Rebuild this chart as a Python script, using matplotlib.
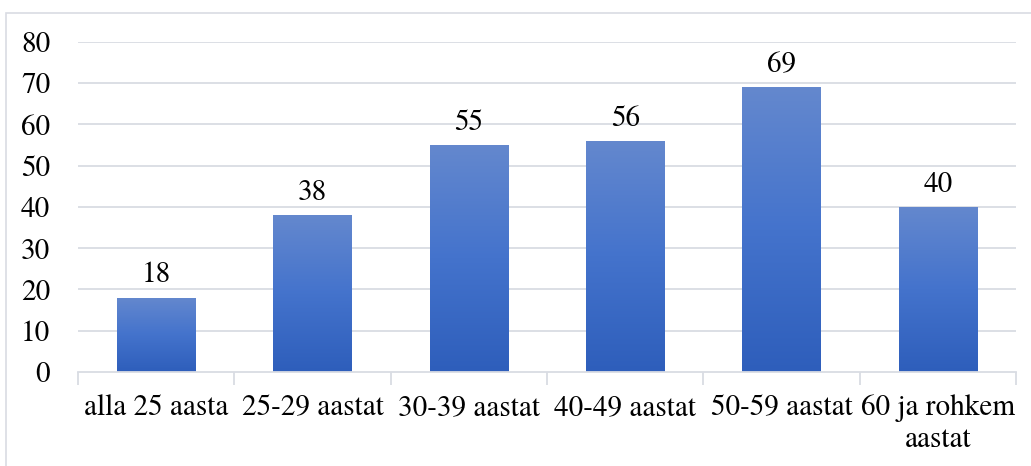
import numpy as np
import matplotlib.pyplot as plt
from matplotlib.colors import LinearSegmentedColormap
from matplotlib.patches import Rectangle

# data
categories = ["alla 25 aasta", "25-29 aastat", "30-39 aastat", "40-49 aastat",
              "50-59 aastat", "60 ja rohkem\naastat"]
values = [18, 38, 55, 56, 69, 40]
yticks = [0, 10, 20, 30, 40, 50, 60, 70, 80]

plt.rcParams['font.family'] = ['TeX Gyre Termes', 'Liberation Serif', 'DejaVu Serif']

fig = plt.figure(figsize=(10.31, 4.66), dpi=100)
# outer chart frame
fig.patches.append(Rectangle((6 / 1031, -0.1), 1.2, 1 - 12.5 / 466 + 0.1,
                             transform=fig.transFigure, fill=False,
                             edgecolor="#D9DCE3", linewidth=1.2))

ax = fig.add_axes([78 / 1031, 1 - 372 / 466, (1016 - 78) / 1031, (372 - 41.7) / 466])

grid_col = "#D9DCE3"
for v in yticks[1:]:
    ax.axhline(v, color=grid_col, linewidth=1.3, zorder=0)

x = np.arange(len(categories))
bars = ax.bar(x, values, width=0.5, color="none", zorder=2)

cmap = LinearSegmentedColormap.from_list("bluegrad", ["#2E5EBB", "#4473CC", "#6488CE"])
grad = np.linspace(0, 1, 256).reshape(-1, 1)
for b in bars:
    x0, y0 = b.get_x(), b.get_y()
    w, h = b.get_width(), b.get_height()
    im = ax.imshow(grad, cmap=cmap, origin="lower", aspect="auto",
                   extent=[x0, x0 + w, y0, y0 + h], zorder=2)
    im.set_clip_path(b)
    ax.text(x0 + w / 2, h + 2.0, str(int(h)), ha="center", va="bottom",
            fontsize=21, color="#000000")

ax.set_xlim(-0.5, len(categories) - 0.5)
ax.set_ylim(0, 80)
ax.set_yticks(yticks)
ax.set_yticklabels([str(v) for v in yticks], fontsize=21)
ax.tick_params(axis="y", length=0, pad=20)

ax.set_xticks(x)
ax.set_xticklabels(categories, fontsize=21, linespacing=1.2)
ax.tick_params(axis="x", length=0, pad=16)
# category separator ticks
ax.set_xticks(np.arange(len(categories) + 1) - 0.5, minor=True)
ax.tick_params(axis="x", which="minor", length=9, width=1.3, color=grid_col)

for s in ["top", "right", "left"]:
    ax.spines[s].set_visible(False)
ax.spines["bottom"].set_color(grid_col)
ax.spines["bottom"].set_linewidth(1.3)

fig.savefig("out.png", dpi=100)
